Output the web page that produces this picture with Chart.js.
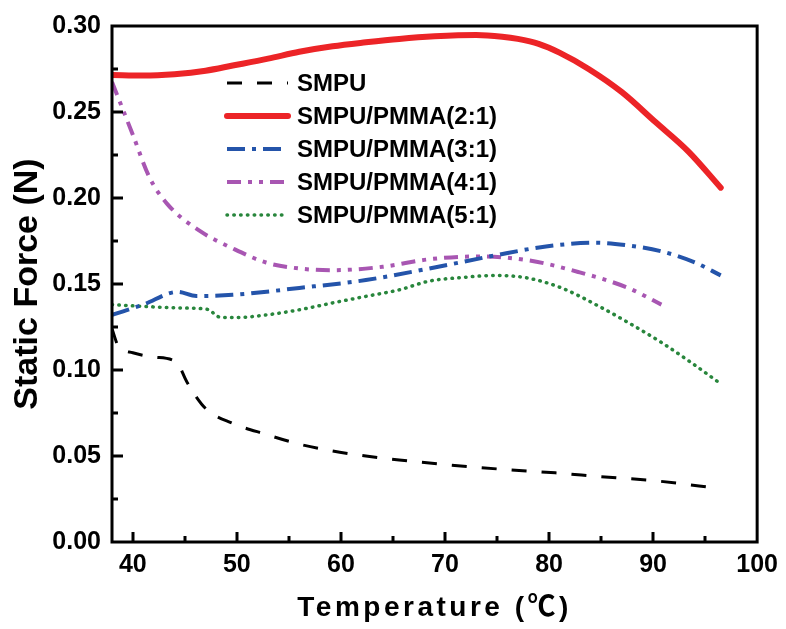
<!DOCTYPE html>
<html>
<head>
<meta charset="utf-8">
<script src="https://cdn.jsdelivr.net/npm/chart.js@4"></script>
<style>
  html, body { margin: 0; padding: 0; background: #fff; }
  #wrap { width: 786px; height: 629px; }
</style>
</head>
<body>
<div id="wrap"><canvas id="myChart"></canvas></div>
<script>
// data
const seriesNames = ['SMPU', 'SMPU/PMMA(2:1)', 'SMPU/PMMA(3:1)', 'SMPU/PMMA(4:1)', 'SMPU/PMMA(5:1)'];

const tempSMPU  = [38, 38.6, 40, 42, 44.2, 45.2, 47, 49.6, 52.8, 56, 59.2, 62.4, 65.6, 70, 75, 80.6, 85, 90.2, 96.5];
const forceSMPU = [0.124, 0.114, 0.110, 0.1075, 0.1046, 0.093, 0.0776, 0.069, 0.0626, 0.0569, 0.0529, 0.050, 0.0477, 0.045, 0.0425, 0.0402, 0.038, 0.0356, 0.031];

const temp21  = [38, 41, 44, 47, 49.6, 53, 56, 59.2, 62.4, 65.6, 69, 73, 75.5, 77, 79, 81, 83.8, 87, 90.2, 93.4, 96.5];
const force21 = [0.2715, 0.2712, 0.272, 0.274, 0.277, 0.281, 0.285, 0.2882, 0.2905, 0.2925, 0.294, 0.2948, 0.2938, 0.2925, 0.2896, 0.2845, 0.275, 0.2615, 0.2443, 0.227, 0.206];

const temp31  = [38, 41, 44.3, 46.1, 49.6, 56, 62.4, 68.5, 74.9, 79.7, 84.5, 87.6, 90.8, 94, 96.5];
const force31 = [0.132, 0.138, 0.1454, 0.143, 0.1437, 0.1477, 0.1523, 0.159, 0.1667, 0.1718, 0.174, 0.1724, 0.169, 0.1626, 0.155];

const temp41  = [38, 40, 41.6, 43.3, 46.4, 49.6, 52.8, 56, 59.2, 64, 68.5, 73.2, 78, 82.8, 87.6, 90.8];
const force41 = [0.2675, 0.2368, 0.212, 0.1966, 0.181, 0.1707, 0.1625, 0.159, 0.158, 0.160, 0.1644, 0.166, 0.1638, 0.157, 0.1477, 0.138];

const temp51  = [38, 41.6, 45, 47.4, 47.9, 48.6, 50, 52.8, 56, 59.2, 62.4, 65.6, 68.5, 71.5, 74.9, 78, 81.2, 84.5, 87.6, 90.8, 93.5, 96.5];
const force51 = [0.138, 0.1368, 0.136, 0.135, 0.132, 0.1305, 0.1305, 0.132, 0.135, 0.139, 0.1428, 0.1466, 0.1517, 0.1537, 0.155, 0.1534, 0.1477, 0.138, 0.1276, 0.116, 0.105, 0.092];

const xTicks = [40, 50, 60, 70, 80, 90, 100];
const xMinorTicks = [45, 55, 65, 75, 85, 95];
const yTicks = [0, 0.05, 0.10, 0.15, 0.20, 0.25, 0.30];
const yMinorTicks = [0.025, 0.075, 0.125, 0.175, 0.225, 0.275];

function pts(xs, ys) {
  return xs.map((x, i) => ({ x: x, y: ys[i] }));
}

const FONT = "'Liberation Sans', Arial, sans-serif";

// frame, inward ticks, legend and x title
const decorPlugin = {
  id: 'decor',
  afterDraw(chart) {
    const ctx = chart.ctx;
    const a = chart.chartArea;
    const xs = chart.scales.x, ys = chart.scales.y;
    ctx.save();
    ctx.strokeStyle = '#000';
    ctx.lineWidth = 3;
    ctx.lineCap = 'butt';
    ctx.strokeRect(a.left, a.top, a.right - a.left, a.bottom - a.top);

    ctx.beginPath();
    xTicks.forEach(v => {
      const px = Math.round(xs.getPixelForValue(v));
      if (px < a.right - 2) { ctx.moveTo(px, a.bottom); ctx.lineTo(px, a.bottom - 10); }
    });
    xMinorTicks.forEach(v => {
      const px = Math.round(xs.getPixelForValue(v));
      ctx.moveTo(px, a.bottom); ctx.lineTo(px, a.bottom - 6);
    });
    yTicks.forEach(v => {
      const py = Math.round(ys.getPixelForValue(v));
      if (py > a.top + 2 && py < a.bottom - 2) { ctx.moveTo(a.left, py); ctx.lineTo(a.left + 11, py); }
    });
    yMinorTicks.forEach(v => {
      const py = Math.round(ys.getPixelForValue(v));
      ctx.moveTo(a.left, py); ctx.lineTo(a.left + 6, py);
    });
    ctx.stroke();

    // legend
    const lx = 227, ly = 83, step = 33;
    ctx.font = 'bold 24px ' + FONT;
    ctx.textBaseline = 'middle';
    ctx.fillStyle = '#000';
    chart.data.datasets.forEach((ds, i) => {
      const y = ly + i * step;
      ctx.save();
      ctx.strokeStyle = ds.borderColor;
      ctx.lineWidth = ds.borderWidth;
      ctx.setLineDash(ds.borderDash || []);
      ctx.lineCap = ds.borderCapStyle || 'butt';
      ctx.beginPath();
      ctx.moveTo(lx, y);
      ctx.lineTo(lx + 61, y);
      ctx.stroke();
      ctx.restore();
      ctx.fillText(ds.label, lx + 70, y + 1);
    });

    // x title with letter spacing
    ctx.font = "bold 28px 'Liberation Sans', 'Noto Sans CJK SC', sans-serif";
    ctx.letterSpacing = '3.5px';
    ctx.textAlign = 'center';
    ctx.textBaseline = 'middle';
    ctx.fillText('Temperature (\u2103)', (a.left + a.right) / 2, 608);
    ctx.restore();
  }
};

const data = {
  datasets: [
    { label: seriesNames[0], data: pts(tempSMPU, forceSMPU), borderColor: '#000000', borderWidth: 3, borderDash: [15, 15] },
    { label: seriesNames[1], data: pts(temp21, force21), borderColor: 'rgb(236, 36, 39)', borderWidth: 6, borderCapStyle: 'round' },
    { label: seriesNames[2], data: pts(temp31, force31), borderColor: 'rgb(36, 84, 170)', borderWidth: 4, borderDash: [18, 7, 4, 7] },
    { label: seriesNames[3], data: pts(temp41, force41), borderColor: 'rgb(168, 86, 178)', borderWidth: 4, borderDash: [14, 7, 4, 7, 4, 7] },
    { label: seriesNames[4], data: pts(temp51, force51), borderColor: 'rgb(40, 134, 60)', borderWidth: 3.5, borderDash: [0.5, 6.3], borderCapStyle: 'round' }
  ]
};

const config = {
  type: 'line',
  data,
  options: {
    responsive: true,
    maintainAspectRatio: false,
    animation: false,
    layout: { padding: { top: 20, right: 25, left: 0, bottom: 0 } },
    elements: {
      point: { radius: 0 },
      line: { tension: 0, cubicInterpolationMode: 'monotone', fill: false }
    },
    plugins: {
      legend: { display: false },
      tooltip: { enabled: false }
    },
    scales: {
      x: {
        type: 'linear',
        min: 38,
        max: 100,
        grid: { display: false, drawTicks: false },
        border: { display: false },
        afterBuildTicks(scale) { scale.ticks = xTicks.map(v => ({ value: v })); },
        afterFit(scale) { scale.height = 87; },
        ticks: {
          color: '#000',
          padding: 8,
          maxRotation: 0,
          font: { family: FONT, size: 25, weight: 'bold', lineHeight: 1.2 }
        }
      },
      y: {
        min: 0,
        max: 0.30,
        grid: { display: false, drawTicks: false },
        border: { display: false },
        afterBuildTicks(scale) { scale.ticks = yTicks.map(v => ({ value: v })); },
        afterFit(scale) { scale.width = 112; },
        ticks: {
          color: '#000',
          padding: 11,
          font: { family: FONT, size: 25, weight: 'bold' },
          callback: v => Number(v).toFixed(2)
        },
        title: {
          display: true,
          text: 'Static Force (N)',
          color: '#000',
          padding: { top: 7, bottom: 0 },
          font: { family: FONT, size: 34, weight: 'bold', lineHeight: 1.2 }
        }
      }
    }
  },
  plugins: [decorPlugin]
};

const myChart = new Chart(document.getElementById('myChart'), config);
</script>
</body>
</html>
